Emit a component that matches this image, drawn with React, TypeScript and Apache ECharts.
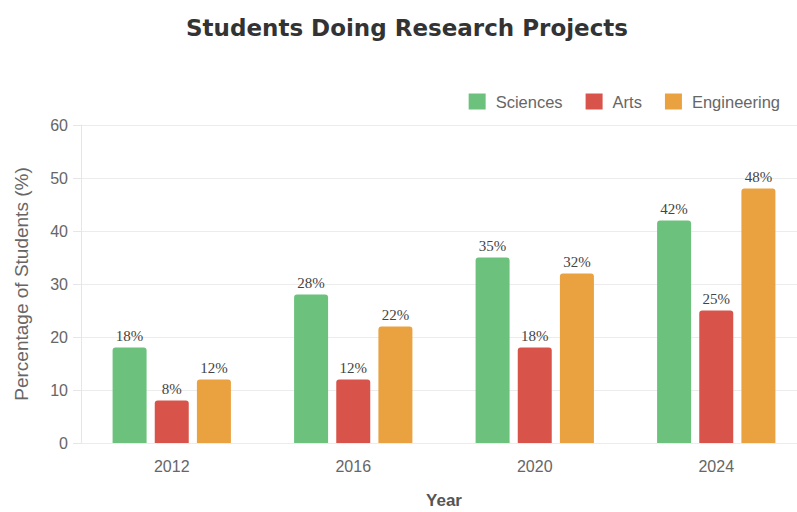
import React, { useEffect, useRef } from "react";
import * as echarts from "echarts";

const years = ["2012", "2016", "2020", "2024"];
const sciences = [18, 28, 35, 42];
const arts = [8, 12, 18, 25];
const engineering = [12, 22, 32, 48];
const seriesNames = ["Sciences", "Arts", "Engineering"];
const colors = ["#6cc27d", "#d8544a", "#eaa140"];

export default function App() {
  const ref = useRef<HTMLDivElement>(null);
  useEffect(() => {
    const chart = echarts.init(ref.current!, null, { renderer: "svg" });
    const label = {
      show: true,
      position: "top",
      distance: 4,
      formatter: "{c}%",
      fontFamily: "Liberation Serif",
      fontSize: 15,
      color: "#444",
    };
    const mk = (name: string, data: number[], color: string) => ({
      name,
      type: "bar",
      data,
      barWidth: 34,
      barGap: "24%",
      itemStyle: { color, borderRadius: [3, 3, 0, 0] },
      label,
    });
    chart.setOption({
      animation: false,
      backgroundColor: "#fff",
      title: {
        text: "Students Doing Research Projects",
        left: 402,
        textAlign: "center",
        top: 11,
        textStyle: {
          fontFamily: "DejaVu Sans",
          fontWeight: "bold",
          fontSize: 23,
          color: "#333",
        },
      },
      legend: {
        data: seriesNames,
        right: 12,
        top: 88,
        itemWidth: 17,
        itemHeight: 16,
        itemGap: 23,
        icon: "rect",
        textStyle: {
          fontFamily: "Liberation Sans",
          fontSize: 16.5,
          color: "#666",
          padding: [0, 0, 0, 5],
        },
      },
      grid: {
        left: 81,
        right: -10,
        top: 125,
        bottom: 69,
        containLabel: false,
        outerBoundsMode: "none",
      },
      xAxis: {
        type: "category",
        data: years,
        name: "Year",
        nameLocation: "middle",
        nameGap: 49,
        nameTextStyle: {
          fontFamily: "Liberation Sans",
          fontSize: 17,
          fontWeight: "bold",
          color: "#555",
        },
        axisLine: { show: false },
        axisTick: { show: false },
        axisLabel: {
          fontFamily: "Liberation Sans",
          fontSize: 16,
          color: "#666",
          margin: 15,
        },
      },
      yAxis: {
        type: "value",
        min: 0,
        max: 60,
        interval: 10,
        name: "Percentage of Students (%)",
        nameLocation: "middle",
        nameGap: 50,
        nameTextStyle: {
          fontFamily: "Liberation Sans",
          fontSize: 19,
          color: "#666",
        },
        axisLine: { show: true, lineStyle: { color: "#e6e6e6" } },
        axisTick: { show: true, length: 8, lineStyle: { color: "#e6e6e6" } },
        splitLine: { lineStyle: { color: "#ececec" } },
        axisLabel: {
          fontFamily: "Liberation Sans",
          fontSize: 16,
          color: "#666",
          margin: 13,
        },
      },
      series: [
        mk(seriesNames[0], sciences, colors[0]),
        mk(seriesNames[1], arts, colors[1]),
        mk(seriesNames[2], engineering, colors[2]),
      ],
    });
    return () => chart.dispose();
  }, []);
  return <div ref={ref} style={{ width: 797, height: 512, position: "absolute", left: 0, top: 0 }} />;
}
